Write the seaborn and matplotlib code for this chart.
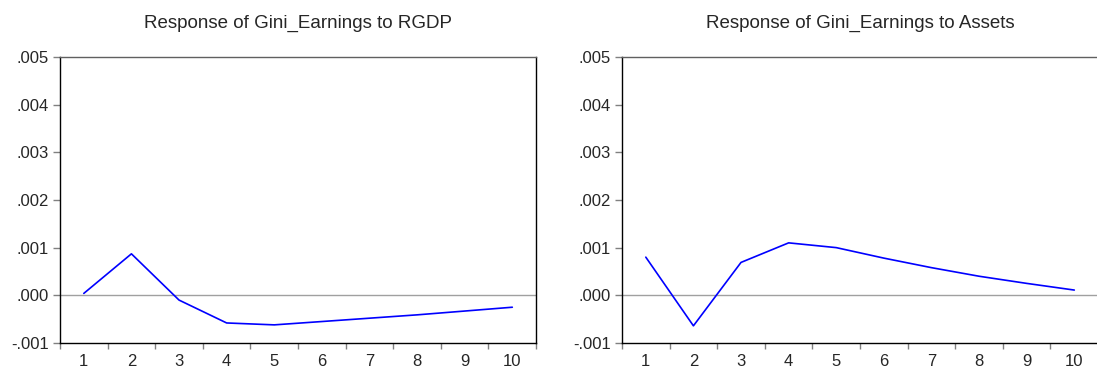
import numpy as np
import pandas as pd
import matplotlib
matplotlib.use("Agg")
import matplotlib.pyplot as plt
import matplotlib.ticker as mticker
import seaborn as sns

# impulse responses
periods = [1, 2, 3, 4, 5, 6, 7, 8, 9, 10]
resp_rgdp = [0.00004, 0.00087, -0.00010, -0.00058, -0.00062, -0.00055, -0.00048, -0.00041, -0.00033, -0.00025]
resp_assets = [0.00080, -0.00064, 0.00069, 0.00110, 0.00100, 0.00078, 0.00058, 0.00040, 0.00025, 0.00011]
titles = ["Response of Gini_Earnings to RGDP", "Response of Gini_Earnings to Assets"]
yticks = [-0.001, 0.000, 0.001, 0.002, 0.003, 0.004, 0.005]

sns.set_style("white")
plt.rcParams['font.family'] = ['Liberation Sans', 'DejaVu Sans']

fig = plt.figure(figsize=(10.97, 3.72), dpi=100)
ax1 = fig.add_axes([0.0547, 0.078, 0.434, 0.769])
ax2 = fig.add_axes([0.567, 0.078, 0.434, 0.769])


def fmt(v, pos):
    s = "%.3f" % v
    if s.startswith("-0"):
        return "-" + s[2:]
    if s.startswith("0"):
        return s[1:]
    return s


for ax, vals, title in zip([ax1, ax2], [resp_rgdp, resp_assets], titles):
    df = pd.DataFrame({"period": periods, "response": vals})
    ax.axhline(0, color="#a0a0a0", lw=1.0, zorder=1)
    sns.lineplot(data=df, x="period", y="response", ax=ax, color="#0000ff", lw=1.2, zorder=3)
    ax.set_xlim(0.5, 10.5)
    ax.set_ylim(-0.001, 0.005)
    ax.set_xticks(periods)
    ax.set_xticks(np.arange(0.5, 11, 1), minor=True)
    ax.set_yticks(yticks)
    ax.yaxis.set_major_formatter(mticker.FuncFormatter(fmt))
    ax.tick_params(axis="x", which="major", length=0, pad=8, labelsize=12)
    ax.tick_params(axis="x", which="minor", length=4, width=1, color="#808080", direction="out", bottom=True)
    ax.tick_params(axis="y", which="major", length=5, width=1, color="#808080", direction="out", pad=3, labelsize=12, left=True)
    ax.set_xlabel("")
    ax.set_ylabel("")
    ax.set_title(title, fontsize=13.5, pad=21)
    for side in ["left", "bottom", "right"]:
        ax.spines[side].set_color("black")
        ax.spines[side].set_linewidth(1.0)
    ax.spines["top"].set_color("#606060")
    ax.spines["top"].set_linewidth(1.0)

fig.savefig("out.png", dpi=100)
